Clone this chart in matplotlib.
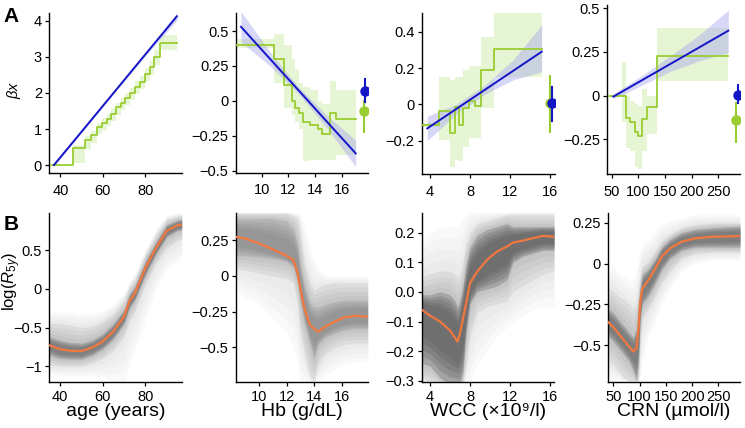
import numpy as np
import matplotlib
matplotlib.use("Agg")
import matplotlib.pyplot as plt

plt.rcParams['font.family'] = ['Liberation Sans', 'DejaVu Sans']
plt.rcParams['mathtext.fontset'] = 'custom'
plt.rcParams['mathtext.rm'] = 'Liberation Sans'
plt.rcParams['mathtext.it'] = 'Liberation Sans:italic'

# ---------------- Panel A data ----------------
# A1: age
a1_edges = [35.5, 45.9, 51.8, 54.6, 57.2, 59.6, 61.9, 64.0, 66.2, 68.4, 70.6, 72.9, 75.3, 77.6, 80.0, 82.4, 84.4, 87.1, 95]
a1_vals = [0, 0.46, 0.69, 0.83, 1.06, 1.17, 1.29, 1.43, 1.60, 1.73, 1.87, 2.00, 2.17, 2.31, 2.54, 2.72, 3.00, 3.39]
a1_lo = [0, 0.05, 0.45, 0.62, 0.85, 0.97, 1.08, 1.22, 1.38, 1.52, 1.66, 1.80, 1.96, 2.10, 2.32, 2.50, 2.78, 3.20]
a1_hi = [0.02, 0.55, 0.80, 0.95, 1.18, 1.30, 1.42, 1.57, 1.73, 1.87, 2.01, 2.15, 2.32, 2.47, 2.70, 2.90, 3.20, 3.60]
a1_fx = [37, 51.5, 66, 80.5, 95]
a1_fit = [0, 1.03, 2.065, 3.1, 4.13]
a1_flo = [-0.04, 1.0, 2.04, 3.06, 4.02]
a1_fhi = [0.04, 1.06, 2.09, 3.14, 4.24]

# A2: Hb
a2_edges = [8.05, 10.9, 11.7, 12.25, 12.5, 12.8, 13.1, 13.6, 14.25, 14.55, 15.1, 15.6, 17.05]
a2_vals = [0.40, 0.30, 0.11, 0.0, -0.05, -0.09, -0.15, -0.17, -0.20, -0.24, -0.09, -0.13]
a2_lo = [0.38, 0.125, -0.05, -0.10, -0.15, -0.20, -0.43, -0.42, -0.42, -0.42, -0.42, -0.39]
a2_hi = [0.44, 0.48, 0.40, 0.30, 0.22, 0.13, 0.10, 0.08, 0.0, -0.02, 0.14, 0.08]
a2_fx = [8.45, 10.6, 12.75, 14.9, 17.05]
a2_fit = [0.53, 0.303, 0.077, -0.15, -0.376]
a2_flo = [0.42, 0.253, 0.052, -0.195, -0.471]
a2_fhi = [0.64, 0.353, 0.102, -0.105, -0.281]

# A3: WCC
a3_edges = [3.17, 4.93, 6.0, 6.5, 6.85, 7.33, 7.9, 8.5, 9.1, 10.4, 15.17]
a3_vals = [-0.114, -0.037, -0.16, -0.015, -0.114, -0.02, 0.02, -0.01, 0.19, 0.305]
a3_lo = [-0.125, -0.196, -0.343, -0.306, -0.31, -0.233, -0.187, -0.187, -0.02, 0.152]
a3_hi = [-0.103, 0.152, 0.134, 0.15, 0.15, 0.19, 0.21, 0.21, 0.37, 0.516]
a3_fx = [3.73, 6.59, 9.45, 12.31, 15.17]
a3_fit = [-0.132, -0.0265, 0.079, 0.1845, 0.29]
a3_flo = [-0.2, -0.055, 0.055, 0.135, 0.18]
a3_fhi = [-0.065, 0.0, 0.105, 0.245, 0.437]

# A4: CRN
a4_edges = [45, 68.75, 76.9, 84.4, 93.75, 98.75, 107.5, 115.6, 135.6, 268.75]
a4_vals = [0.0, 0.0, -0.126, -0.149, -0.206, -0.231, -0.136, -0.063, 0.227]
a4_lo = [-0.005, -0.15, -0.30, -0.32, -0.41, -0.42, -0.32, -0.22, 0.085]
a4_hi = [0.005, 0.195, 0.0, -0.03, -0.05, -0.06, 0.04, 0.0, 0.39]
a4_fx = [53, 107, 161, 215, 268.75]
a4_fit = [-0.006, 0.0885, 0.183, 0.2775, 0.372]
a4_flo = [-0.02, 0.06, 0.14, 0.20, 0.245]
a4_fhi = [0.01, 0.115, 0.23, 0.35, 0.49]

# summary points: (x, y, lo, hi)
pts_blue = {1: (17.78, 0.073, -0.01, 0.156), 2: (16.17, 0.005, -0.09, 0.097), 3: (286, 0.004, -0.044, 0.06)}
pts_green = {1: (17.68, -0.07, -0.22, 0.0), 2: (16.03, 0.005, -0.154, 0.156), 3: (283, -0.14, -0.263, -0.044)}

# ---------------- Panel B data ----------------
b1_x = [35, 40, 45, 50, 55, 60, 65, 70, 72.5, 75, 80, 85, 90, 95, 97]
b1_c = [-0.73, -0.78, -0.80, -0.805, -0.76, -0.68, -0.55, -0.36, -0.16, -0.06, 0.27, 0.53, 0.75, 0.82, 0.83]
b1_ilo = [-0.86, -0.90, -0.91, -0.91, -0.86, -0.78, -0.65, -0.45, -0.25, -0.15, 0.18, 0.45, 0.67, 0.75, 0.76]
b1_ihi = [-0.62, -0.66, -0.69, -0.70, -0.66, -0.58, -0.45, -0.27, -0.07, 0.03, 0.36, 0.61, 0.83, 0.89, 0.90]
b1_mlo = [-0.98, -1.0, -1.0, -1.0, -0.96, -0.90, -0.80, -0.62, -0.42, -0.30, 0.05, 0.33, 0.52, 0.62, 0.64]
b1_mhi = [-0.45, -0.45, -0.47, -0.5, -0.48, -0.42, -0.32, -0.15, 0.03, 0.12, 0.45, 0.7, 0.9, 0.94, 0.95]
b1_olo = [-1.1, -1.12, -1.12, -1.12, -1.12, -1.15, -1.2, -1.2, -1.0, -0.8, -0.4, 0.0, 0.25, 0.35, 0.4]
b1_ohi = [-0.3, -0.3, -0.3, -0.32, -0.32, -0.28, -0.2, -0.05, 0.1, 0.2, 0.5, 0.78, 0.95, 0.98, 0.98]

b2_x = [8.31, 9, 10, 11, 12, 12.5, 12.8, 13.0, 13.3, 13.7, 14.0, 14.3, 14.8, 15.5, 16.2, 17, 17.89]
b2_c = [0.273, 0.26, 0.227, 0.185, 0.14, 0.11, 0.02, -0.09, -0.23, -0.344, -0.37, -0.39, -0.356, -0.32, -0.29, -0.28, -0.286]
b2_ilo = [0.14, 0.14, 0.13, 0.12, 0.10, 0.06, -0.04, -0.18, -0.33, -0.48, -0.58, -0.48, -0.43, -0.40, -0.38, -0.37, -0.37]
b2_ihi = [0.40, 0.40, 0.40, 0.40, 0.38, 0.33, 0.23, 0.08, -0.07, -0.19, -0.22, -0.22, -0.20, -0.18, -0.17, -0.17, -0.17]
b2_mlo = [0.05, 0.04, 0.02, 0.0, -0.02, -0.05, -0.2, -0.4, -0.55, -0.7, -0.74, -0.62, -0.55, -0.5, -0.48, -0.47, -0.47]
b2_mhi = [0.44, 0.44, 0.44, 0.44, 0.44, 0.42, 0.4, 0.3, 0.1, -0.05, -0.1, -0.08, -0.06, -0.05, -0.05, -0.05, -0.05]
b2_olo = [-0.1, -0.15, -0.2, -0.3, -0.4, -0.5, -0.6, -0.74, -0.74, -0.74, -0.74, -0.74, -0.7, -0.65, -0.62, -0.6, -0.6]
b2_ohi = [0.44, 0.44, 0.44, 0.44, 0.44, 0.44, 0.44, 0.44, 0.35, 0.2, 0.1, 0.05, 0.0, 0.0, 0.0, 0.0, 0.0]

b3_x = [3.17, 4, 5, 6, 6.5, 6.75, 7.0, 7.3, 7.6, 8.0, 8.7, 9.7, 10.7, 11.7, 12.3, 13.3, 14.3, 15.3, 16.4]
b3_c = [-0.06, -0.08, -0.10, -0.13, -0.155, -0.168, -0.14, -0.09, -0.04, 0.029, 0.068, 0.108, 0.136, 0.153, 0.166, 0.173, 0.181, 0.189, 0.186]
b3_ilo = [-0.24, -0.25, -0.29, -0.31, -0.31, -0.31, -0.31, -0.27, -0.14, -0.04, -0.0, 0.01, 0.02, 0.04, 0.10, 0.12, 0.13, 0.14, 0.14]
b3_ihi = [-0.01, -0.01, 0.0, -0.01, -0.03, -0.05, -0.03, 0.02, 0.09, 0.15, 0.19, 0.21, 0.22, 0.23, 0.22, 0.22, 0.22, 0.22, 0.22]
b3_mlo = [-0.29, -0.30, -0.31, -0.31, -0.31, -0.31, -0.31, -0.31, -0.25, -0.15, -0.07, -0.05, -0.04, -0.03, 0.0, 0.02, 0.04, 0.06, 0.07]
b3_mhi = [0.05, 0.06, 0.07, 0.07, 0.06, 0.05, 0.06, 0.10, 0.16, 0.20, 0.23, 0.24, 0.25, 0.26, 0.26, 0.26, 0.26, 0.26, 0.26]
b3_olo = [-0.31, -0.31, -0.31, -0.31, -0.31, -0.31, -0.31, -0.31, -0.31, -0.30, -0.25, -0.20, -0.15, -0.12, -0.10, -0.08, -0.06, -0.05, -0.05]
b3_ohi = [0.18, 0.20, 0.22, 0.22, 0.22, 0.22, 0.23, 0.25, 0.26, 0.27, 0.27, 0.27, 0.27, 0.27, 0.27, 0.27, 0.27, 0.27, 0.27]

b4_x = [40.5, 50, 60, 70, 80, 88, 94, 98, 101, 105, 117, 130, 142, 158, 180, 205, 237, 291]
b4_c = [-0.36, -0.39, -0.43, -0.47, -0.51, -0.54, -0.52, -0.40, -0.245, -0.155, -0.10, -0.03, 0.042, 0.093, 0.134, 0.154, 0.164, 0.168]
b4_ilo = [-0.45, -0.48, -0.52, -0.56, -0.60, -0.66, -0.72, -0.60, -0.35, -0.25, -0.20, -0.12, -0.04, 0.03, 0.08, 0.10, 0.10, 0.10]
b4_ihi = [-0.28, -0.30, -0.34, -0.38, -0.42, -0.45, -0.40, -0.25, -0.15, -0.07, -0.03, 0.03, 0.10, 0.15, 0.19, 0.21, 0.22, 0.23]
b4_mlo = [-0.60, -0.62, -0.66, -0.70, -0.72, -0.72, -0.72, -0.72, -0.50, -0.35, -0.28, -0.20, -0.12, -0.05, 0.03, 0.06, 0.07, 0.07]
b4_mhi = [-0.15, -0.17, -0.20, -0.22, -0.25, -0.28, -0.25, -0.15, -0.08, -0.02, 0.02, 0.08, 0.14, 0.18, 0.22, 0.24, 0.25, 0.25]
b4_olo = [-0.72, -0.72, -0.72, -0.72, -0.72, -0.72, -0.72, -0.72, -0.72, -0.60, -0.45, -0.35, -0.25, -0.15, -0.05, 0.0, 0.02, 0.02]
b4_ohi = [0.0, -0.02, -0.05, -0.08, -0.10, -0.10, -0.05, 0.02, 0.08, 0.12, 0.15, 0.20, 0.24, 0.26, 0.28, 0.30, 0.30, 0.30]

# ticks
a_yticks = [[0, 1, 2, 3, 4], [0.5, 0.25, 0, -0.25, -0.5], [0.4, 0.2, 0, -0.2], [0.5, 0.25, 0, -0.25]]
a_yticklabels = [['0', '1', '2', '3', '4'], ['0.5', '0.25', '0', '\u22120.25', '\u22120.5'],
                 ['0.4', '0.2', '0', '\u22120.2'], ['0.5', '0.25', '0', '\u22120.25']]
xticks = [[40, 60, 80], [10, 12, 14, 16], [4, 8, 12, 16], [50, 100, 150, 200, 250]]
b_yticks = [[0.5, 0, -0.5, -1], [0.25, 0, -0.25, -0.5], [0.2, 0.1, 0.0, -0.1, -0.2, -0.3], [0.25, 0, -0.25, -0.5]]
b_yticklabels = [['0.5', '0', '\u22120.5', '\u22121'], ['0.25', '0', '\u22120.25', '\u22120.5'],
                 ['0.2', '0.1', '0.0', '\u22120.1', '\u22120.2', '\u22120.3'], ['0.25', '0', '\u22120.25', '\u22120.5']]
xlabels = ['age (years)', 'Hb (g/dL)', 'WCC (\u00d710\u2079/l)', 'CRN (\u00b5mol/l)']

# ---------------- layout ----------------
W, H = 745, 428
fig = plt.figure(figsize=(W / 100, H / 100), dpi=100)

def mkax(l, r, t, b):
    return fig.add_axes([l / W, 1 - b / H, (r - l) / W, (b - t) / H])

a_pos = [(49.3, 182, 13, 173), (235.7, 367.7, 13, 172.7), (421.7, 555, 13, 174), (607.3, 740, 5, 174)]
a_xlim = [(34.8, 97.4), (8.05, 17.95), (3.17, 16.5), (41.8, 290.6)]
a_ylim = [(-0.222, 4.222), (-0.5143, 0.629), (-0.383, 0.503), (-0.449, 0.519)]
b_pos = [(49.3, 181.7, 213, 381.7), (235.7, 367.7, 213, 381.7), (421.7, 554, 213, 381.7), (608.3, 740, 213, 381.7)]
b_xlim = [(35, 97), (8.31, 17.89), (3.17, 16.4), (40.5, 291)]
b_ylim = [(-1.2, 0.98), (-0.74, 0.439), (-0.303, 0.266), (-0.725, 0.31)]

GREEN = '#9acd32'
GREEN_FILL = '#e4f4cf'
BLUE = '#1515c8'
BLUE_FILL = '#a8a8ee'
ORANGE = '#f2773f'
GRAY = '#5a5a5a'

def style(ax, pad):
    for s in ['top', 'right']:
        ax.spines[s].set_visible(False)
    for s in ['left', 'bottom']:
        ax.spines[s].set_linewidth(1.0)
    ax.tick_params(length=3.2, width=0.9, labelsize=10.5, colors='black')
    ax.tick_params(axis='x', pad=pad)
    ax.tick_params(axis='y', pad=2)

a_steps = [(a1_edges, a1_vals, a1_lo, a1_hi), (a2_edges, a2_vals, a2_lo, a2_hi),
           (a3_edges, a3_vals, a3_lo, a3_hi), (a4_edges, a4_vals, a4_lo, a4_hi)]
a_fits = [(a1_fx, a1_fit, a1_flo, a1_fhi), (a2_fx, a2_fit, a2_flo, a2_fhi),
          (a3_fx, a3_fit, a3_flo, a3_fhi), (a4_fx, a4_fit, a4_flo, a4_fhi)]

for i in range(4):
    ax = mkax(*a_pos[i])
    style(ax, 4.5)
    e, v, lo, hi = a_steps[i]
    ax.fill_between(e, list(lo) + [lo[-1]], list(hi) + [hi[-1]], step='post',
                    color=GREEN_FILL, lw=0, alpha=0.9, zorder=1)
    ax.step(e, list(v) + [v[-1]], where='post', color=GREEN, lw=1.3, zorder=3)
    fx, fit, flo, fhi = a_fits[i]
    ax.fill_between(fx, flo, fhi, color=BLUE_FILL, alpha=0.45, lw=0, zorder=2)
    ax.plot(fx, fit, color=BLUE, lw=1.4, zorder=4)
    if i in pts_blue:
        gx, gy, glo, ghi = pts_green[i]
        ax.plot([gx, gx], [glo, ghi], color=GREEN, lw=1.5, zorder=5)
        ax.plot([gx], [gy], 'o', color=GREEN, ms=6.5, zorder=5)
        bx, by, blo, bhi = pts_blue[i]
        ax.plot([bx, bx], [blo, bhi], color=BLUE, lw=1.5, zorder=6)
        ax.plot([bx], [by], 'o', color=BLUE, ms=6.5, zorder=6)
    ax.set_xlim(*a_xlim[i])
    ax.set_ylim(*a_ylim[i])
    ax.set_xticks(xticks[i])
    ax.set_xticklabels([str(t) for t in xticks[i]])
    ax.set_yticks(a_yticks[i])
    ax.set_yticklabels(a_yticklabels[i])

b_data = [(b1_x, b1_c, b1_ilo, b1_ihi, b1_mlo, b1_mhi, b1_olo, b1_ohi),
          (b2_x, b2_c, b2_ilo, b2_ihi, b2_mlo, b2_mhi, b2_olo, b2_ohi),
          (b3_x, b3_c, b3_ilo, b3_ihi, b3_mlo, b3_mhi, b3_olo, b3_ohi),
          (b4_x, b4_c, b4_ilo, b4_ihi, b4_mlo, b4_mhi, b4_olo, b4_ohi)]
core_alpha = [0.16, 0.09, 0.26, 0.18]

def soft_band(ax, x, lo_a, hi_a, lo_b, hi_b, n, alpha):
    # shaded gradient between band a (wider) and band b (narrower)
    lo_a, hi_a, lo_b, hi_b = map(np.asarray, (lo_a, hi_a, lo_b, hi_b))
    for t in np.linspace(0, 1, n):
        ax.fill_between(x, lo_a + t * (lo_b - lo_a), hi_a + t * (hi_b - hi_a),
                        color=GRAY, alpha=alpha, lw=0, zorder=2)

for i in range(4):
    ax = mkax(*b_pos[i])
    style(ax, 2.5)
    x, c, ilo, ihi, mlo, mhi, olo, ohi = b_data[i]
    c_arr = np.asarray(c)
    soft_band(ax, x, olo, ohi, mlo, mhi, 5, 0.03)
    soft_band(ax, x, mlo, mhi, ilo, ihi, 5, 0.06)
    mid_lo = (np.asarray(ilo) + c_arr) / 2
    mid_hi = (np.asarray(ihi) + c_arr) / 2
    soft_band(ax, x, ilo, ihi, mid_lo, mid_hi, 5, core_alpha[i])
    ax.plot(x, c, color=ORANGE, lw=1.6, zorder=4)
    ax.set_xlim(*b_xlim[i])
    ax.set_ylim(*b_ylim[i])
    ax.set_xticks(xticks[i])
    ax.set_xticklabels([str(t) for t in xticks[i]])
    ax.set_yticks(b_yticks[i])
    ax.set_yticklabels(b_yticklabels[i])
    cx = (b_pos[i][0] + b_pos[i][1]) / 2
    fig.text(cx / W, 1 - 412 / H, xlabels[i], ha='center', va='center', fontsize=14)

fig.text(11 / W, 1 - 17 / H, 'A', fontsize=15, fontweight='bold', ha='center', va='center')
fig.text(11 / W, 1 - 225 / H, 'B', fontsize=15, fontweight='bold', ha='center', va='center')
fig.text(14 / W, 1 - 90 / H, r'$\beta x$', fontsize=10.5, rotation=90, ha='center', va='center')
fig.text(12 / W, 1 - 281 / H, r'log($R_{5y}$)', fontsize=12, rotation=90, ha='center', va='center')

fig.savefig('out.png', dpi=100)
